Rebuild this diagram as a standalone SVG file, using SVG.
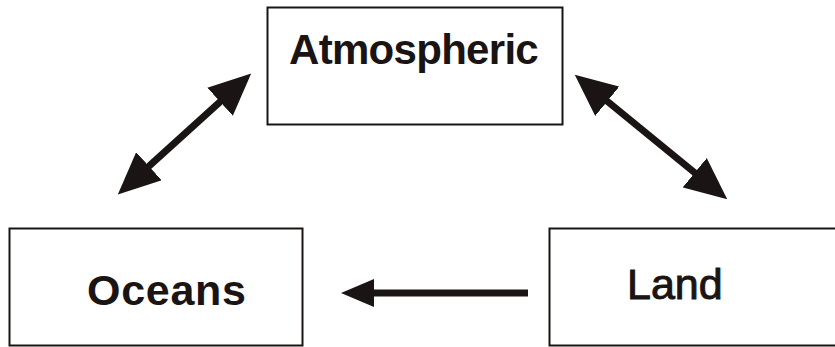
<svg xmlns="http://www.w3.org/2000/svg" width="835" height="347" viewBox="0 0 835 347">
<style>
.box{fill:#fff;stroke:#1a1414;stroke-width:2}
.lbl{font-family:"Liberation Sans",Arial,sans-serif;fill:#1a1414}
.b{font-weight:bold}
.conn{stroke:#1a1414;stroke-width:7;fill:none;stroke-linecap:butt}
</style>
<defs>
<marker id="hL" markerUnits="userSpaceOnUse" markerWidth="42" markerHeight="38" viewBox="0 0 42 38" refX="1" refY="19" orient="auto-start-reverse"><path d="M0,0 L42,19 L0,38 z" fill="#1a1414"/></marker>
<marker id="hS" markerUnits="userSpaceOnUse" markerWidth="33" markerHeight="28" viewBox="0 0 33 28" refX="1" refY="14" orient="auto-start-reverse"><path d="M0,0 L33,14 L0,28 z" fill="#1a1414"/></marker>
</defs>
<rect width="835" height="347" fill="#fff"/>
<g id="atmospheric">
<rect class="box" x="267.5" y="7.5" width="295" height="117"/>
<text class="lbl b" x="289" y="64" font-size="42" letter-spacing="-0.7">Atmospheric</text>
</g>
<g id="oceans">
<rect class="box" x="9.5" y="228.5" width="293" height="117"/>
<text class="lbl b" x="87" y="305" font-size="43" letter-spacing="0.7">Oceans</text>
</g>
<g id="land">
<rect class="box" x="549.5" y="228.5" width="295" height="117"/>
<text class="lbl" x="627" y="299" font-size="43" stroke="#1a1414" stroke-width="1">Land</text>
</g>
<g id="connectors">
<line class="conn" x1="148.2" y1="166.9" x2="220.8" y2="101.1" marker-start="url(#hL)" marker-end="url(#hL)"/>
<line class="conn" x1="606.5" y1="100.6" x2="695.5" y2="173.4" marker-start="url(#hL)" marker-end="url(#hL)"/>
<line class="conn" x1="528" y1="293" x2="373" y2="293" marker-end="url(#hS)"/>
</g>
</svg>
